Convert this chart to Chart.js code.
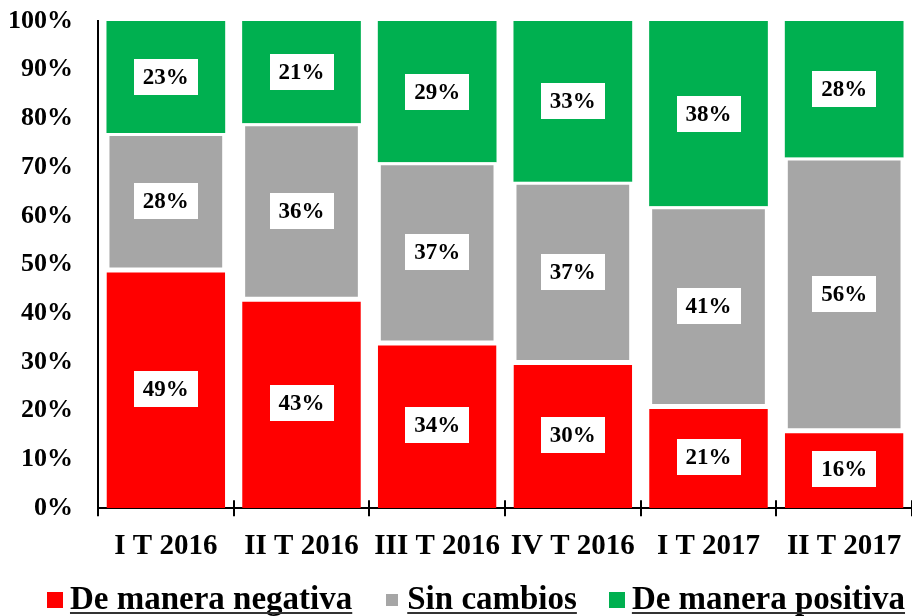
<!DOCTYPE html>
<html>
<head>
<meta charset="utf-8">
<script src="https://cdn.jsdelivr.net/npm/chart.js@4.4.1/dist/chart.umd.min.js"></script>
<style>
  html, body { margin: 0; padding: 0; background: #fff; }
  #wrap { width: 912px; height: 616px; position: relative; }
</style>
</head>
<body>
<div id="wrap"><canvas id="c" width="912" height="616"></canvas></div>
<script>
const categories = ['I T 2016', 'II T 2016', 'III T 2016', 'IV T 2016', 'I T 2017', 'II T 2017'];
const negativa = [49, 43, 34, 30, 21, 16];
const sinCambios = [28, 36, 37, 37, 41, 56];
const positiva = [23, 21, 29, 33, 38, 28];
const seriesNames = ['De manera negativa', 'Sin cambios', 'De manera positiva'];
const yTicks = [0, 10, 20, 30, 40, 50, 60, 70, 80, 90, 100];

const FONT = '"Liberation Serif", "Times New Roman", serif';

const valueLabels = {
  id: 'valueLabels',
  afterDatasetsDraw(chart) {
    const ctx = chart.ctx;
    ctx.save();
    ctx.font = 'bold 23px ' + FONT;
    ctx.textAlign = 'center';
    ctx.textBaseline = 'middle';
    chart.data.datasets.forEach((ds, i) => {
      const meta = chart.getDatasetMeta(i);
      meta.data.forEach((bar, j) => {
        const p = bar.getProps(['x', 'y', 'base'], true);
        const cy = (p.y + p.base) / 2;
        const txt = ds.data[j] + '%';
        const w = ctx.measureText(txt).width + 18;
        const h = 36;
        ctx.fillStyle = '#ffffff';
        ctx.fillRect(Math.round(p.x - w / 2), Math.round(cy - h / 2), Math.round(w), h);
        ctx.fillStyle = '#000000';
        ctx.fillText(txt, p.x, cy + 1);
      });
    });
    ctx.restore();
  }
};

const axisTicksUp = {
  id: 'axisTicksUp',
  afterDraw(chart) {
    const ctx = chart.ctx;
    const xs = chart.scales.x;
    const bottom = chart.chartArea.bottom;
    ctx.save();
    ctx.strokeStyle = '#000';
    ctx.lineWidth = 2;
    for (let i = 0; i <= categories.length; i++) {
      const x = Math.round(xs.left + (xs.right - xs.left) * i / categories.length);
      ctx.beginPath();
      ctx.moveTo(x, bottom - 8);
      ctx.lineTo(x, bottom);
      ctx.stroke();
    }
    ctx.restore();
  }
};

// Legend drawn on the canvas (box, text, underline) from the datasets
const customLegend = {
  id: 'customLegend',
  afterDraw(chart) {
    const ctx = chart.ctx;
    const fs = 33;
    const box = 16, boxGap = 7, itemGap = 32;
    const cy = 600;
    ctx.save();
    ctx.font = 'bold ' + fs + 'px ' + FONT;
    const items = chart.data.datasets.map(ds => ({
      text: ds.label,
      color: ds.backgroundColor,
      inset: (ds.borderWidth && ds.borderWidth.left) ? 2 : 0,
      w: ctx.measureText(ds.label).width
    }));
    const total = items.reduce((s, it) => s + box + boxGap + it.w, 0) + itemGap * (items.length - 1);
    let x = 476 - total / 2;
    ctx.textAlign = 'left';
    ctx.textBaseline = 'middle';
    items.forEach(it => {
      ctx.fillStyle = it.color;
      ctx.fillRect(Math.round(x) + it.inset, cy - 8 + it.inset, box - 2 * it.inset, box - 2 * it.inset);
      const tx = x + box + boxGap;
      ctx.fillStyle = '#000';
      ctx.fillText(it.text, tx, cy);
      ctx.strokeStyle = '#333';
      ctx.lineWidth = 2;
      ctx.beginPath();
      ctx.moveTo(tx, cy + 13);
      ctx.lineTo(tx + it.w, cy + 13);
      ctx.stroke();
      x = tx + it.w + itemGap;
    });
    ctx.restore();
  }
};

new Chart(document.getElementById('c'), {
  type: 'bar',
  data: {
    labels: categories,
    datasets: [
      {
        label: seriesNames[0],
        data: negativa,
        backgroundColor: '#FF0000',
        borderColor: '#FFFFFF',
        borderWidth: { top: 3, left: 0, right: 0, bottom: 0 },
        borderSkipped: false
      },
      {
        label: seriesNames[1],
        data: sinCambios,
        backgroundColor: '#A6A6A6',
        borderColor: '#FFFFFF',
        borderWidth: { top: 3, left: 3, right: 3, bottom: 2 },
        borderSkipped: false
      },
      {
        label: seriesNames[2],
        data: positiva,
        backgroundColor: '#00B050',
        borderColor: '#FFFFFF',
        borderWidth: 0,
        borderSkipped: false
      }
    ]
  },
  options: {
    responsive: false,
    animation: false,
    layout: { padding: { left: 9, right: -2, top: 21, bottom: 39 } },
    datasets: { bar: { categoryPercentage: 1.0, barPercentage: 0.875 } },
    scales: {
      x: {
        stacked: true,
        grid: { display: true, drawOnChartArea: false, drawTicks: true, tickLength: 8, color: '#000', lineWidth: 2, offset: true },
        border: { display: true, color: '#000', width: 2 },
        ticks: { color: '#000', font: { family: FONT, size: 29, weight: 'bold' }, padding: 13, maxRotation: 0, autoSkip: false },
        afterFit(scale) { scale.paddingLeft = 0; scale.paddingRight = 0; }
      },
      y: {
        stacked: true,
        min: 0,
        max: 100,
        afterBuildTicks(scale) { scale.ticks = yTicks.map(v => ({ value: v })); },
        grid: { display: false, drawTicks: false },
        border: { display: true, color: '#000', width: 2 },
        ticks: {
          color: '#000',
          font: { family: FONT, size: 26, weight: 'bold' },
          padding: 25,
          callback: (v) => v + '%'
        },
        afterFit(scale) { scale.width = 89; scale.paddingTop = 0; scale.paddingBottom = 0; }
      }
    },
    plugins: {
      tooltip: { enabled: false },
      legend: { display: false }
    }
  },
  plugins: [valueLabels, axisTicksUp, customLegend]
});
</script>
</body>
</html>
